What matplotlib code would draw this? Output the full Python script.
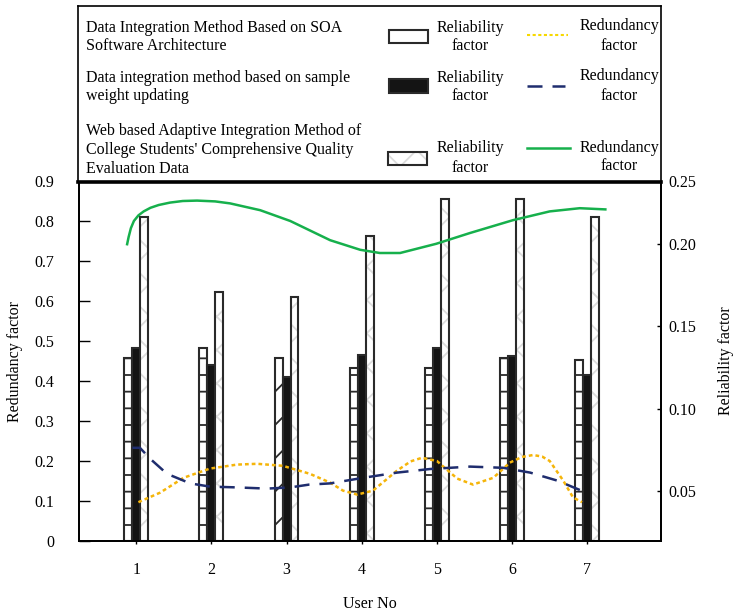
import matplotlib
matplotlib.use("Agg")
import matplotlib.pyplot as plt
from matplotlib.patches import Rectangle
import numpy as np

plt.rcParams["font.family"] = ["Liberation Serif", "DejaVu Serif"]
plt.rcParams["hatch.linewidth"] = 1.3

# -------------------------------------------------
# Data
# -------------------------------------------------

users = [1, 2, 3, 4, 5, 6, 7]

# reliability factor bars (left scale)
soa_rel = [0.457, 0.483, 0.458, 0.433, 0.433, 0.458, 0.453]
weight_rel = [0.483, 0.440, 0.410, 0.465, 0.483, 0.463, 0.416]
web_rel = [0.809, 0.623, 0.609, 0.763, 0.856, 0.856, 0.809]
soa_hatch = ["-", "-", "/", "-", "-", "-", "-"]

# redundancy factor curves
web_red_x = [0.88, 0.90, 0.93, 0.97, 1.03, 1.10, 1.19, 1.30, 1.45, 1.62, 1.81,
             2.05, 2.25, 2.65, 3.05, 3.58, 3.98, 4.24, 4.51, 4.99, 5.44, 6.01,
             6.50, 6.90, 7.24]
web_red_y = [0.742, 0.760, 0.782, 0.800, 0.814, 0.824, 0.833, 0.840, 0.846,
             0.850, 0.851, 0.849, 0.844, 0.827, 0.800, 0.752, 0.728, 0.720,
             0.720, 0.743, 0.770, 0.802, 0.824, 0.832, 0.829]

soa_red_x = [1.03, 1.32, 1.63, 1.98, 2.34, 2.61, 2.95, 3.31, 3.58, 3.75, 3.94,
             4.15, 4.47, 4.65, 4.80, 5.00, 5.27, 5.48, 5.75, 5.97, 6.13, 6.28,
             6.40, 6.50, 6.68, 6.81, 6.93]
soa_red_y = [0.097, 0.121, 0.158, 0.181, 0.191, 0.193, 0.188, 0.168, 0.146,
             0.126, 0.116, 0.126, 0.176, 0.199, 0.208, 0.200, 0.156, 0.141,
             0.158, 0.196, 0.210, 0.215, 0.211, 0.200, 0.151, 0.109, 0.097]

weight_red_x = [0.95, 1.05, 1.19, 1.41, 1.72, 1.98, 2.34, 2.74, 3.05, 3.30,
                3.58, 4.02, 4.47, 4.91, 5.44, 5.88, 6.24, 6.60, 7.01]
weight_red_y = [0.233, 0.233, 0.205, 0.168, 0.144, 0.136, 0.134, 0.131, 0.134,
                0.141, 0.144, 0.158, 0.171, 0.180, 0.186, 0.183, 0.171, 0.151,
                0.119]

left_ticks = [0, 0.1, 0.2, 0.3, 0.4, 0.5, 0.6, 0.7, 0.8, 0.9]
left_labels = ["0", "0.1", "0.2", "0.3", "0.4", "0.5", "0.6", "0.7", "0.8", "0.9"]
right_ticks = [0.05, 0.10, 0.15, 0.20, 0.2384]
right_labels = ["0.05", "0.10", "0.15", "0.20", "0.25"]

method_names = [
    "Data Integration Method Based on SOA\nSoftware Architecture",
    "Data integration method based on sample\nweight updating",
    "Web based Adaptive Integration Method of\nCollege Students' Comprehensive Quality\nEvaluation Data",
]

# -------------------------------------------------
# Plot
# -------------------------------------------------

W, H = 733, 611
fig = plt.figure(figsize=(W / 100, H / 100), dpi=100)

ax = fig.add_axes([79 / W, 70 / H, 582 / W, 360 / H])

edge = "#2a2a2a"
yellow = "#f5b50a"
navy = "#1f2d6e"
green = "#16b04c"
bw = 0.106
x = np.array(users, dtype=float)

ax.bar(x - bw, soa_rel, bw, color="white", edgecolor=edge, linewidth=1.5,
       hatch=soa_hatch, zorder=2)
ax.bar(x, weight_rel, bw, color="#141414", edgecolor=edge, linewidth=1.5,
       zorder=2)
ax.bar(x + bw, web_rel, bw, color="white", edgecolor="#dcdcdc", linewidth=0,
       hatch="x", zorder=2)
ax.bar(x + bw, web_rel, bw, fill=False, edgecolor=edge, linewidth=1.5,
       zorder=2)

ax.plot(web_red_x, web_red_y, color=green, lw=1.8, zorder=3)
ax.plot(soa_red_x, soa_red_y, color=yellow, lw=1.8, ls=(0, (1.5, 1.2)), zorder=3)
ax.plot(weight_red_x, weight_red_y, color=navy, lw=1.8, ls=(0, (6, 4)), zorder=3)

ax.set_xlim(0.24, 7.98)
ax.set_ylim(0, 0.9)
ax.set_xticks(users)
ax.set_xticklabels([str(u) for u in users])
ax.set_yticks(left_ticks)
ax.set_yticklabels(left_labels)
ax.tick_params(axis="y", direction="in", length=8, width=1, pad=18,
               labelsize=11.5)
ax.tick_params(axis="x", direction="out", length=2, width=1, pad=13,
               labelsize=11.5)
ax.set_xlabel("User No", fontsize=11.5, labelpad=13)
ax.set_ylabel("Redundancy factor", fontsize=11.5, labelpad=8)
for s in ax.spines.values():
    s.set_linewidth(1.3)

ax2 = ax.twinx()
ax2.set_ylim(0.0195, 0.2384)
ax2.set_yticks(right_ticks)
ax2.set_yticklabels(right_labels)
ax2.tick_params(axis="y", direction="in", length=3, width=1, pad=5,
                labelsize=11.5)
ax2.set_ylabel("Reliability factor", fontsize=11.5, labelpad=16)
for s in ax2.spines.values():
    s.set_linewidth(1.3)

# -------------------------------------------------
# Legend box (pixel coordinates)
# -------------------------------------------------

lg = fig.add_axes([78 / W, 1 - 182 / H, (661 - 78) / W, (182 - 6) / H])
lg.set_xlim(78, 661)
lg.set_ylim(182, 6)
lg.set_xticks([])
lg.set_yticks([])
for s in lg.spines.values():
    s.set_linewidth(1.2)
lg.spines["bottom"].set_linewidth(2.6)

fs = 11.5
text_y = [37, 87, 150]
for ty, name in zip(text_y, method_names):
    lg.text(86, ty, name, fontsize=fs, va="center", ha="left",
            linespacing=1.25)

lg.add_patch(Rectangle((389, 30), 39, 13, facecolor="white", edgecolor=edge,
                       lw=1.5))
lg.add_patch(Rectangle((389, 79), 39, 14, facecolor="#141414", edgecolor=edge,
                       lw=1.5))
lg.add_patch(Rectangle((388, 152), 39, 13, facecolor="white",
                       edgecolor="#dcdcdc", lw=0, hatch="x"))
lg.add_patch(Rectangle((388, 152), 39, 13, fill=False, edgecolor=edge, lw=1.5))

rel_y = [37, 87, 158]
red_y = [36, 86, 157]
for ry in rel_y:
    lg.text(470, ry, "Reliability\nfactor", fontsize=fs, va="center",
            ha="center", linespacing=1.25)
for ry in red_y:
    lg.text(619, ry, "Redundancy\nfactor", fontsize=fs, va="center",
            ha="center", linespacing=1.25)

lg.plot([527, 568], [35, 35], color="#f7d800", lw=1.5, ls=(0, (1.5, 1.2)))
lg.plot([527, 565], [86, 86], color=navy, lw=1.8, ls=(0, (6, 4)))
lg.plot([527, 570], [148, 148], color=green, lw=1.8)

fig.savefig("out.png", dpi=100)
